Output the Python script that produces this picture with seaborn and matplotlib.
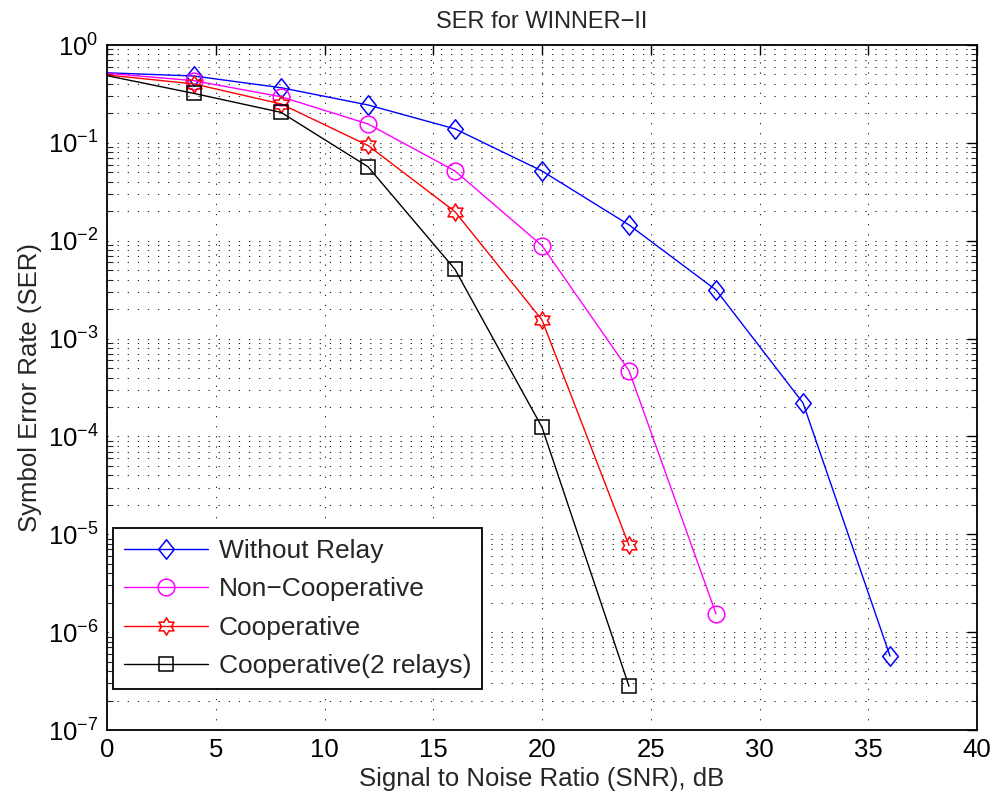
import numpy as np
import pandas as pd
import matplotlib
matplotlib.use("Agg")
import matplotlib.pyplot as plt
from matplotlib.path import Path
from matplotlib.ticker import LogLocator, FixedLocator, NullFormatter
import seaborn as sns

# ---- data ----
snr_db = [0, 4, 8, 12, 16, 20, 24, 28, 32, 36]
ser_without_relay = [0.52, 0.482, 0.366, 0.244, 0.139, 0.0516, 0.0145, 3.14e-3, 2.2e-4, 5.7e-7]
ser_non_coop = [0.514, 0.432, 0.296, 0.156, 0.0516, 0.0089, 4.7e-4, 1.54e-6]
ser_coop = [0.494, 0.40, 0.25, 0.094, 0.0198, 1.55e-3, 7.7e-6]
ser_coop_2relays = [0.486, 0.32, 0.205, 0.057, 5.1e-3, 1.24e-4, 2.8e-7]
series_names = ["Without Relay", "Non\u2212Cooperative", "Cooperative", "Cooperative(2 relays)"]
series_values = [ser_without_relay, ser_non_coop, ser_coop, ser_coop_2relays]
series_colors = ["#0000ff", "#ff00ff", "#ff0000", "#000000"]
x_ticks = [0, 5, 10, 15, 20, 25, 30, 35, 40]
title_text = "SER for WINNER\u2212II"
xlabel_text = "Signal to Noise Ratio (SNR), dB"
ylabel_text = "Symbol Error Rate (SER)"

# ---- markers ----
diamond = Path([(0, 1), (0.8, 0), (0, -1), (-0.8, 0), (0, 1)],
               [Path.MOVETO, Path.LINETO, Path.LINETO, Path.LINETO, Path.CLOSEPOLY])
hv = []
for k in range(12):
    ang = np.deg2rad(90 + 30 * k)
    r = 1.0 if k % 2 == 0 else 0.577
    hv.append((r * np.cos(ang), r * np.sin(ang)))
hv.append(hv[0])
hexagram = Path(hv, [Path.MOVETO] + [Path.LINETO] * 11 + [Path.CLOSEPOLY])
series_markers = [diamond, "o", hexagram, "s"]
marker_sizes = [14, 12, 12.5, 9.5]

sns.set_theme(style="white")
plt.rcParams["font.family"] = ["Liberation Sans", "DejaVu Sans"]
plt.rcParams["mathtext.fontset"] = "custom"
plt.rcParams["mathtext.rm"] = "Liberation Sans"
plt.rcParams["mathtext.it"] = "Liberation Sans"
plt.rcParams["mathtext.default"] = "regular"

fig = plt.figure(figsize=(9.96, 8.05), dpi=100)
ax = fig.add_axes([107 / 996, 75 / 805, 870 / 996, 685 / 805])

for name, vals, col, mk, ms in zip(series_names, series_values, series_colors,
                                   series_markers, marker_sizes):
    df = pd.DataFrame({"snr": snr_db[:len(vals)], "ser": vals})
    sns.lineplot(data=df, x="snr", y="ser", ax=ax, color=col, linewidth=1.0,
                 marker=mk, markersize=ms, markerfacecolor="none",
                 markeredgecolor=col, markeredgewidth=1.1,
                 markevery=list(range(1, len(vals))),
                 estimator=None, sort=False, label=name)

ax.set_yscale("log")
ax.set_xlim(0, 40)
ax.set_ylim(1e-7, 1)
ax.xaxis.set_major_locator(FixedLocator(x_ticks))
ax.yaxis.set_major_locator(LogLocator(base=10, numticks=20))
ax.yaxis.set_minor_locator(LogLocator(base=10, subs=np.arange(2, 10), numticks=20))
ax.yaxis.set_minor_formatter(NullFormatter())

grid_style = dict(color="#222222", linestyle=(0, (1.2, 8.5)), linewidth=0.75)
ax.grid(True, which="major", axis="both", **grid_style)
ax.grid(True, which="minor", axis="y", **grid_style)

for s in ax.spines.values():
    s.set_visible(True)
    s.set_color("black")
    s.set_linewidth(1.3)
ax.tick_params(axis="both", which="major", direction="in", length=7, width=1,
               top=True, right=True, labelsize=18.5, colors="black", pad=6)
ax.tick_params(axis="y", which="minor", direction="in", length=4, width=0.8,
               left=True, right=True)

ax.set_title(title_text, fontsize=17, pad=12)
ax.set_xlabel(xlabel_text, fontsize=18.5, labelpad=3)
ax.set_ylabel(ylabel_text, fontsize=18.5, labelpad=4)

leg = ax.legend(loc="lower left", bbox_to_anchor=(0.0069, 0.06), fontsize=19,
                frameon=True, fancybox=False, edgecolor="black", framealpha=1,
                handlelength=3.2, handletextpad=0.4, borderpad=0.4,
                labelspacing=0.55, borderaxespad=0)
leg.get_frame().set_linewidth(1.3)

fig.savefig("out.png", dpi=100, facecolor="white")
